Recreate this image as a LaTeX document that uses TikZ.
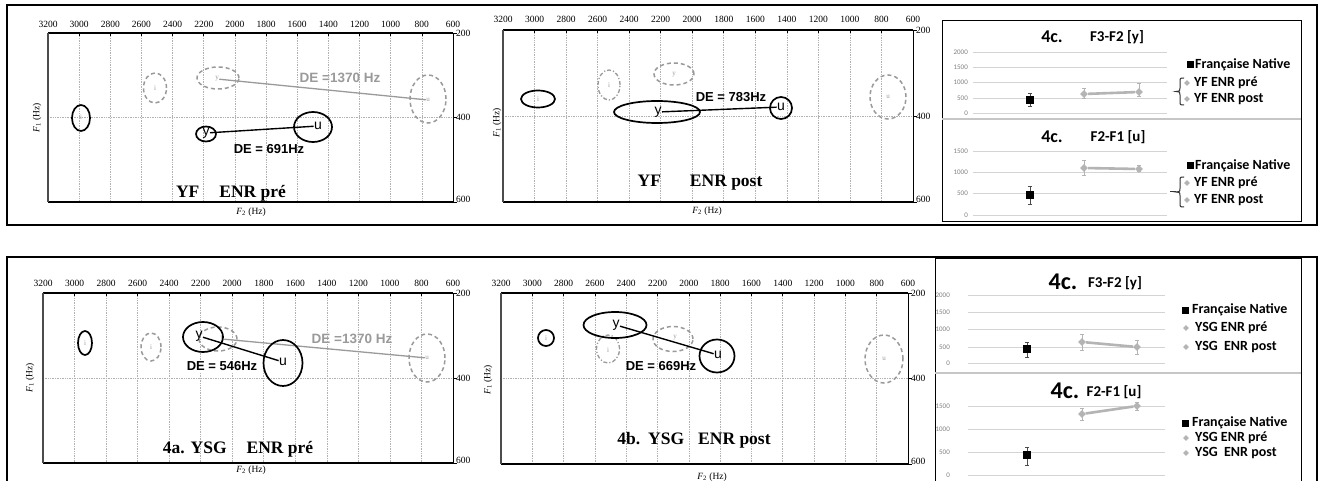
\documentclass[tikz,border=0pt]{standalone}
\usepackage{fontspec}
\setmainfont{Liberation Serif}
\setsansfont{Liberation Sans}
\newfontfamily\calib{Carlito}
\usetikzlibrary{shapes.geometric}
\definecolor{vgrey}{HTML}{9A9A9A}
\definecolor{dgrey}{HTML}{B4B4B4}
\definecolor{glight}{HTML}{D4D4D4}
\tikzset{
 ticklab/.style={font=\fontsize{9.5}{10}\selectfont, inner sep=0},
 axlab/.style={font=\fontsize{9.5}{10}\selectfont, inner sep=0},
 gridl/.style={draw=gray!60, densely dotted, line width=0.7pt},
 vowB/.style={draw, ellipse, line width=1.7pt, inner sep=0},
 vowG/.style={draw=vgrey, ellipse, dash pattern=on 4pt off 3pt, line width=1.5pt, inner sep=0},
 vowGd/.style={draw=vgrey, ellipse, dash pattern=on 4pt off 2pt on 1.2pt off 2pt, line width=1.3pt, inner sep=0},
 letB/.style={font=\sffamily\fontsize{14}{14}\selectfont, inner sep=0.3pt},
 letG/.style={text=vgrey, font=\fontsize{7}{7}\selectfont, inner sep=0.3pt},
 conB/.style={line width=1.4pt},
 conG/.style={draw=vgrey, line width=1.3pt},
 deB/.style={font=\sffamily\bfseries\fontsize{13}{13}\selectfont, inner sep=0},
 deG/.style={text=vgrey, font=\sffamily\bfseries\fontsize{13.5}{13}\selectfont, inner sep=0},
 ttl/.style={font=\bfseries\fontsize{17.5}{18}\selectfont, inner sep=0},
 frame/.style={line width=1.2pt},
 chlab/.style={font=\calib\fontsize{7}{7}\selectfont, text=gray, inner sep=0, anchor=east},
 chgrid/.style={draw=glight, line width=0.9pt},
 chtitle/.style={font=\calib\bfseries\fontsize{18}{18}\selectfont, inner sep=0},
 chtitleL/.style={font=\calib\bfseries\fontsize{24}{24}\selectfont, inner sep=0},
 chsub/.style={font=\calib\bfseries\fontsize{15}{15}\selectfont, inner sep=0},
 leg/.style={font=\calib\bfseries\fontsize{14}{14}\selectfont, anchor=west, inner sep=0},
 sqB/.style={fill=black, rectangle, minimum size=8pt, inner sep=0},
 sqL/.style={fill=black, rectangle, minimum size=7pt, inner sep=0},
 dmG/.style={fill=dgrey, diamond, minimum size=8pt, inner sep=0},
 dmL/.style={fill=dgrey, diamond, minimum size=6pt, inner sep=0},
 errB/.style={line width=1pt, draw=gray!60!black},
 errG/.style={line width=1pt, draw=dgrey},
 dataG/.style={draw=dgrey, line width=2.6pt},
 bracel/.style={line width=1pt, draw=black!80},
}
\newcommand\ebar[4]{\draw[#4] (#1,#2) -- (#1,#3) (#1-2,#2) -- (#1+2,#2) (#1-2,#3) -- (#1+2,#3);}
\newcommand\fplot[6]{%
  \draw[gridl] (#2,{(#4+#5)/2}) -- (#3,{(#4+#5)/2});
  \foreach \k in {0,...,13}{
    \pgfmathsetmacro\xx{#2+\k*(#3-#2)/13}
    \pgfmathtruncatemacro\fv{3200-200*\k}
    \ifnum\k>0 \ifnum\k<13 \draw[gridl] (\xx,#4) -- (\xx,#5); \fi\fi
    \draw[line width=0.6pt] (\xx,#4) -- (\xx,#4+3);
    \node[ticklab] (#1t\k) at (\xx,#6) {\fv};
  }
  \draw[line width=1.6pt] (#2,#4) -- (#3,#4);
  \draw[line width=1.6pt] (#2,#5) -- (#3,#5);
  \draw[line width=1.4pt, black!70] (#2,#4) -- (#2,#5);
  \draw[line width=0.9pt] (#3,#4) -- (#3,#5);
  \draw[line width=0.6pt] (#3,#4) -- ++(4,0) (#3,{(#4+#5)/2}) -- ++(4,0) (#3,#5) -- ++(4,0);
  \node[ticklab, anchor=west] (#1r2) at (#3+3,#4) {200};
  \node[ticklab, anchor=west] (#1r4) at (#3+3,{(#4+#5)/2}) {400};
  \node[ticklab, anchor=west] (#1r6) at (#3+3,#5-3) {600};
}
\begin{document}
\begin{tikzpicture}[x=1pt,y=-1pt]
\useasboundingbox (0,0) rectangle (1319,481);
\fill[white] (0,0) rectangle (1319,481);
% outer frames
\draw[frame] (7,5) rectangle (1317,225);
\draw[frame] (7,490) -- (7,257) -- (1317,257) -- (1317,490);

% ---------------- plot 1 (top left)
\fplot{pa}{48}{453}{33}{202}{24}
\node[axlab, rotate=90] (paF1) at (37,118) {\textit{F}\textsubscript{1} (Hz)};
\node[axlab] (paF2) at (251,212) {\textit{F}\textsubscript{2} (Hz)};
\node[vowB, minimum width=18, minimum height=26] (paiB) at (81,118) {};
\node[letG] (paiBl) at (81,117) {i};
\node[vowG, minimum width=23, minimum height=30] (paiG) at (155,88) {};
\node[letG] (paiGl) at (155,88) {i};
\node[vowG, minimum width=42, minimum height=22] (payG) at (218,78) {};
\node[letG] (payGl) at (217,79) {y};
\node[vowG, minimum width=36, minimum height=48] (pauG) at (428,99) {};
\node[letG] (pauGl) at (428,100) {u};
\draw[conG] (payGl) -- (pauGl);
\node[deG] (padeG) at (340,78) {DE =1370 Hz};
\node[vowB, minimum width=20, minimum height=15] (payB) at (206,134) {};
\node[letB] (payBl) at (206,133) {y};
\node[vowB, minimum width=38, minimum height=30] (pauB) at (313,127) {};
\node[letB] (pauBl) at (318,126) {u};
\draw[conB] (payBl) -- (pauBl);
\node[deB] (padeB) at (269,149) {DE = 691Hz};
\node[ttl] (pattl) at (231,193) {YF\hspace{20pt}ENR pré};

% ---------------- plot 2 (top middle)
\fplot{pb}{503}{913}{30}{202}{19}
\node[axlab, rotate=90] (pbF1) at (497,123) {\textit{F}\textsubscript{1} (Hz)};
\node[axlab] (pbF2) at (707,211) {\textit{F}\textsubscript{2} (Hz)};
\node[vowB, minimum width=34, minimum height=17] (pbiB) at (538,99) {};
\node[letG] (pbiBl) at (538,99) {i};
\node[vowGd, minimum width=22, minimum height=30] (pbiG) at (609,85) {};
\node[letG] (pbiGl) at (609,85) {i};
\node[vowG, minimum width=40, minimum height=22] (pbyG) at (674,74) {};
\node[letG] (pbyGl) at (674,75) {y};
\node[vowG, minimum width=36, minimum height=44] (pbuG) at (888,97) {};
\node[letG] (pbuGl) at (888,97) {u};
\node[vowB, minimum width=86, minimum height=22] (pbyB) at (657,112) {};
\node[letB] (pbyBl) at (658,112) {y};
\node[vowB, minimum width=22, minimum height=22] (pbuB) at (781,108) {};
\node[letB] (pbuBl) at (781,107) {u};
\draw[conB] (pbyBl) -- (pbuBl);
\node[deB] (pbdeB) at (731,97) {DE = 783Hz};
\node[ttl] (pbttl) at (700,183) {YF\hspace{29pt}ENR post};

% ---------------- plot 3 (bottom left)
\fplot{pc}{43}{453}{293}{463}{283}
\node[axlab, rotate=90] (pcF1) at (30,378) {\textit{F}\textsubscript{1} (Hz)};
\node[axlab] (pcF2) at (251,470) {\textit{F}\textsubscript{2} (Hz)};
\node[vowB, minimum width=14, minimum height=24] (pciB) at (85,343) {};
\node[letG] (pciBl) at (85,343) {i};
\node[vowG, minimum width=20, minimum height=28] (pciG) at (151,347) {};
\node[letG] (pciGl) at (151,347) {i};
\node[vowG, minimum width=38, minimum height=24] (pcyG) at (218,339) {};
\node[letG] (pcyGl) at (222,339) {y};
\node[vowG, minimum width=36, minimum height=48] (pcuG) at (427,358) {};
\node[letG] (pcuGl) at (427,358) {u};
\draw[conG] (pcyGl) -- (pcuGl);
\node[deG] (pcdeG) at (352,339) {DE =1370 Hz};
\node[vowB, minimum width=40, minimum height=30] (pcyB) at (203,337) {};
\node[letB] (pcyBl) at (199,336) {y};
\node[vowB, minimum width=39, minimum height=46] (pcuB) at (283,363) {};
\node[letB] (pcuBl) at (283,362) {u};
\draw[conB] (pcyBl) -- (pcuBl);
\node[deB, fill=white, inner sep=1pt] (pcdeB) at (222,366) {DE = 546Hz};
\node[ttl] (pcttl) at (238,449) {4a.\hspace{6pt}YSG\hspace{20pt}ENR pré};

% ---------------- plot 4 (bottom middle)
\fplot{pd}{501}{908}{293}{464}{283}
\node[axlab, rotate=90] (pdF1) at (488,380) {\textit{F}\textsubscript{1} (Hz)};
\node[axlab] (pdF2) at (712,477) {\textit{F}\textsubscript{2} (Hz)};
\node[vowB, minimum width=16, minimum height=16] (pdiB) at (546,338) {};
\node[letG] (pdiBl) at (546,338) {i};
\node[vowGd, minimum width=23, minimum height=28] (pdiG) at (608,349) {};
\node[letG] (pdiGl) at (608,350) {i};
\node[vowG, minimum width=40, minimum height=25] (pdyG) at (673,339) {};
\node[letG] (pdyGl) at (675,338) {y};
\node[vowG, minimum width=38, minimum height=48] (pduG) at (884,359) {};
\node[letG] (pduGl) at (884,359) {u};
\node[vowB, minimum width=63, minimum height=26] (pdyB) at (615,325) {};
\node[letB] (pdyBl) at (616,325) {y};
\node[vowB, minimum width=35, minimum height=33] (pduB) at (717,356) {};
\node[letB] (pduBl) at (718,355) {u};
\draw[conB] (pdyBl) -- (pduBl);
\node[deB] (pddeB) at (661,366) {DE = 669Hz};
\node[ttl] (pdttl) at (694,440) {4b.\hspace{8pt}YSG\hspace{14pt}ENR post};

% ---------------- right panel top
\draw[line width=1pt] (942,21) rectangle (1301,221);
\draw[gray!45, line width=1.2pt] (942,119) -- (1301,119);
\foreach \yy/\vv in {52/2000,67/1500,82/1000,98/500,113/0}{
  \draw[chgrid] (973,\yy) -- (1167,\yy);
  \node[chlab] (ca\vv) at (968,\yy) {\vv};
}
\node[chtitle] (caT) at (1052,37) {4c.};
\node[chsub] (caS) at (1117,37) {F3-F2 [y]};
\ebar{1030}{94}{107}{errB}
\ebar{1084}{89}{99}{errG}
\ebar{1139}{84}{97}{errG}
\node[sqB] (caN) at (1030,100) {};
\node[dmG] (caA) at (1084,94) {};
\node[dmG] (caB) at (1139,92) {};
\draw[dataG] (caA) -- (caB);
\node[sqL] (caL1) at (1190,65) {};
\node[leg] (caL1t) at (1195,65) {Française Native};
\node[dmL] (caL2) at (1187,83) {};
\node[leg] (caL2t) at (1194,83) {YF ENR pré};
\node[dmL] (caL3) at (1187,99) {};
\node[leg] (caL3t) at (1194,99) {YF ENR post};
\draw[bracel] (1184,78) .. controls (1180,78) .. (1180,82) -- (1180,88) .. controls (1180,91) .. (1176,91.5) .. controls (1180,92) .. (1180,95) -- (1180,101) .. controls (1180,105) .. (1184,105);

\foreach \yy/\vv in {151/1500,172/1000,193/500,215/0}{
  \draw[chgrid] (973,\yy) -- (1167,\yy);
  \node[chlab] (cb\vv) at (968,\yy) {\vv};
}
\node[chtitle] (cbT) at (1052,137) {4c.};
\node[chsub] (cbS) at (1118,137) {F2-F1 [u]};
\ebar{1030}{187}{205}{errB}
\ebar{1084}{161}{176}{errG}
\ebar{1139}{166}{172}{errG}
\node[sqB] (cbN) at (1030,195) {};
\node[dmG] (cbA) at (1084,168) {};
\node[dmG] (cbB) at (1139,169) {};
\draw[dataG] (cbA) -- (cbB);
\node[sqL] (cbL1) at (1190,166) {};
\node[leg] (cbL1t) at (1195,166) {Française Native};
\node[dmL] (cbL2) at (1187,183) {};
\node[leg] (cbL2t) at (1194,183) {YF ENR pré};
\node[dmL] (cbL3) at (1187,200) {};
\node[leg] (cbL3t) at (1194,200) {YF ENR post};
\draw[bracel] (1184,177) .. controls (1180,177) .. (1180,181) -- (1180,188) .. controls (1180,191.5) .. (1176,192) .. controls (1180,192.5) .. (1180,196) -- (1180,203) .. controls (1180,207) .. (1184,207);
\draw[bracel] (1170,192) -- (1176,192);

% ---------------- right panel bottom
\draw[line width=1pt] (935,490) -- (935,258) -- (1301,258) -- (1301,490);
\draw[gray!45, line width=1.2pt] (935,373) -- (1301,373);
\foreach \yy/\vv in {295/2000,312/1500,329/1000,347/500,363/0}{
  \draw[chgrid] (968,\yy) -- (1165,\yy);
  \node[chlab] (cc\vv) at (950,\yy) {\vv};
}
\node[chtitleL] (ccT) at (1063,282) {4c.};
\node[chsub] (ccS) at (1115,283) {F3-F2 [y]};
\ebar{1027}{342}{357}{errB}
\ebar{1082}{334}{350}{errG}
\ebar{1137}{340}{354}{errG}
\node[sqB] (ccN) at (1027,349) {};
\node[dmG] (ccA) at (1082,342) {};
\node[dmG] (ccB) at (1137,347) {};
\draw[dataG] (ccA) -- (ccB);
\node[sqL] (ccL1) at (1185,310) {};
\node[leg] (ccL1t) at (1192,310) {Française Native};
\node[dmL] (ccL2) at (1186,328) {};
\node[leg] (ccL2t) at (1195,328) {YSG ENR pré};
\node[dmL] (ccL3) at (1186,347) {};
\node[leg] (ccL3t) at (1195,347) {YSG\ \ ENR post};

\foreach \yy/\vv in {406/1500,429/1000,452/500,475/0}{
  \draw[chgrid] (968,\yy) -- (1165,\yy);
  \node[chlab] (cd\vv) at (950,\yy) {\vv};
}
\node[chtitleL] (cdT) at (1065,391) {4c.};
\node[chsub] (cdS) at (1114,392) {F2-F1 [u]};
\ebar{1027}{447}{465}{errB}
\ebar{1082}{408}{420}{errG}
\ebar{1137}{402}{410}{errG}
\node[sqB] (cdN) at (1027,455) {};
\node[dmG] (cdA) at (1082,414) {};
\node[dmG] (cdB) at (1137,406) {};
\draw[dataG] (cdA) -- (cdB);
\node[sqL] (cdL1) at (1185,423) {};
\node[leg] (cdL1t) at (1192,423) {Française Native};
\node[dmL] (cdL2) at (1186,438) {};
\node[leg] (cdL2t) at (1195,438) {YSG ENR pré};
\node[dmL] (cdL3) at (1186,453) {};
\node[leg] (cdL3t) at (1195,453) {YSG\ \ ENR post};
\end{tikzpicture}
\end{document}
